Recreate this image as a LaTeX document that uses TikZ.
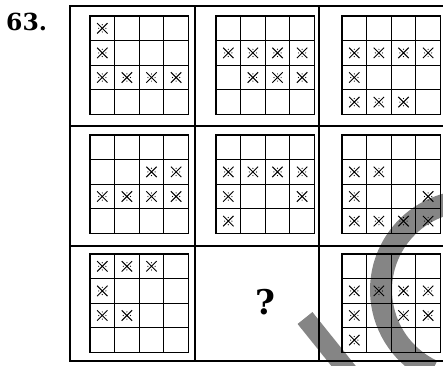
\documentclass[tikz,border=0pt]{standalone}
\usepackage{fontspec}
\newfontfamily\heavyserif{DejaVu Serif}

\tikzset{
    refmark/.pic={
        \draw[line width=0.95pt] (-5.2,-5.2) -- (5.2,5.2) (-5.2,5.2) -- (5.2,-5.2);
        \foreach \a in {0,90,180,270}
            \fill (\a:3.6) circle (0.6pt);
    }
}

\begin{document}
\begin{tikzpicture}[x=1pt, y=-1pt,
    frame/.style={line width=2pt},
    cellline/.style={line width=1.2pt},
    watermark/.style={line width=22pt, black!48}]
    \useasboundingbox (0,0) rectangle (443,365);

    % ===== watermark strokes (lie under the grids) =====
    \draw[watermark] (470,290) ++(-95:89) arc[start angle=-95, end angle=-245, radius=89];
    \draw[watermark, line width=19pt] (305,318) -- (350,374);

    % Question number
    \node[anchor=base west, font=\heavyserif\fontsize{23.5}{23.5}\selectfont\bfseries, inner sep=0pt] (qnum) at (6,30) {63.};

    % ===== outer frame and dividers =====
    \draw[frame] (70,6) rectangle (446,361);
    \draw[frame] (195,6) -- (195,361);
    \draw[frame] (319,6) -- (319,361);
    \draw[frame] (70,125.5) -- (446,125.5);
    \draw[frame] (70,246) -- (446,246);

    % ===== 4x4 grids: x0/y0/{col/row of each mark} =====
    \foreach \gx/\gy/\marks in {
        90/16/{1/1,1/2,1/3,2/3,3/3,4/3},
        216/16/{1/2,2/2,3/2,4/2,2/3,3/3,4/3},
        342/16/{1/2,2/2,3/2,4/2,1/3,1/4,2/4,3/4},
        90/135/{3/2,4/2,1/3,2/3,3/3,4/3},
        216/135/{1/2,2/2,3/2,4/2,1/3,4/3,1/4},
        342/135/{1/2,2/2,1/3,4/3,1/4,2/4,3/4,4/4},
        90/254/{1/1,2/1,3/1,1/2,1/3,2/3},
        342/254/{1/2,2/2,3/2,4/2,1/3,3/3,4/3,1/4}} {
        \begin{scope}[shift={(\gx,\gy)}]
            \draw[cellline] (0,0) rectangle (98.4,98.4);
            \foreach \i in {1,2,3} {
                \draw[cellline] (\i*24.6,0) -- (\i*24.6,98.4);
                \draw[cellline] (0,\i*24.6) -- (98.4,\i*24.6);
            }
            \foreach \c/\r in \marks
                \pic at ({(\c-0.5)*24.6},{(\r-0.5)*24.6}) {refmark};
        \end{scope}
    }

    % Missing figure
    \node[font=\heavyserif\fontsize{34}{34}\selectfont\bfseries] (ask) at (265.5,302) {?};
\end{tikzpicture}
\end{document}
